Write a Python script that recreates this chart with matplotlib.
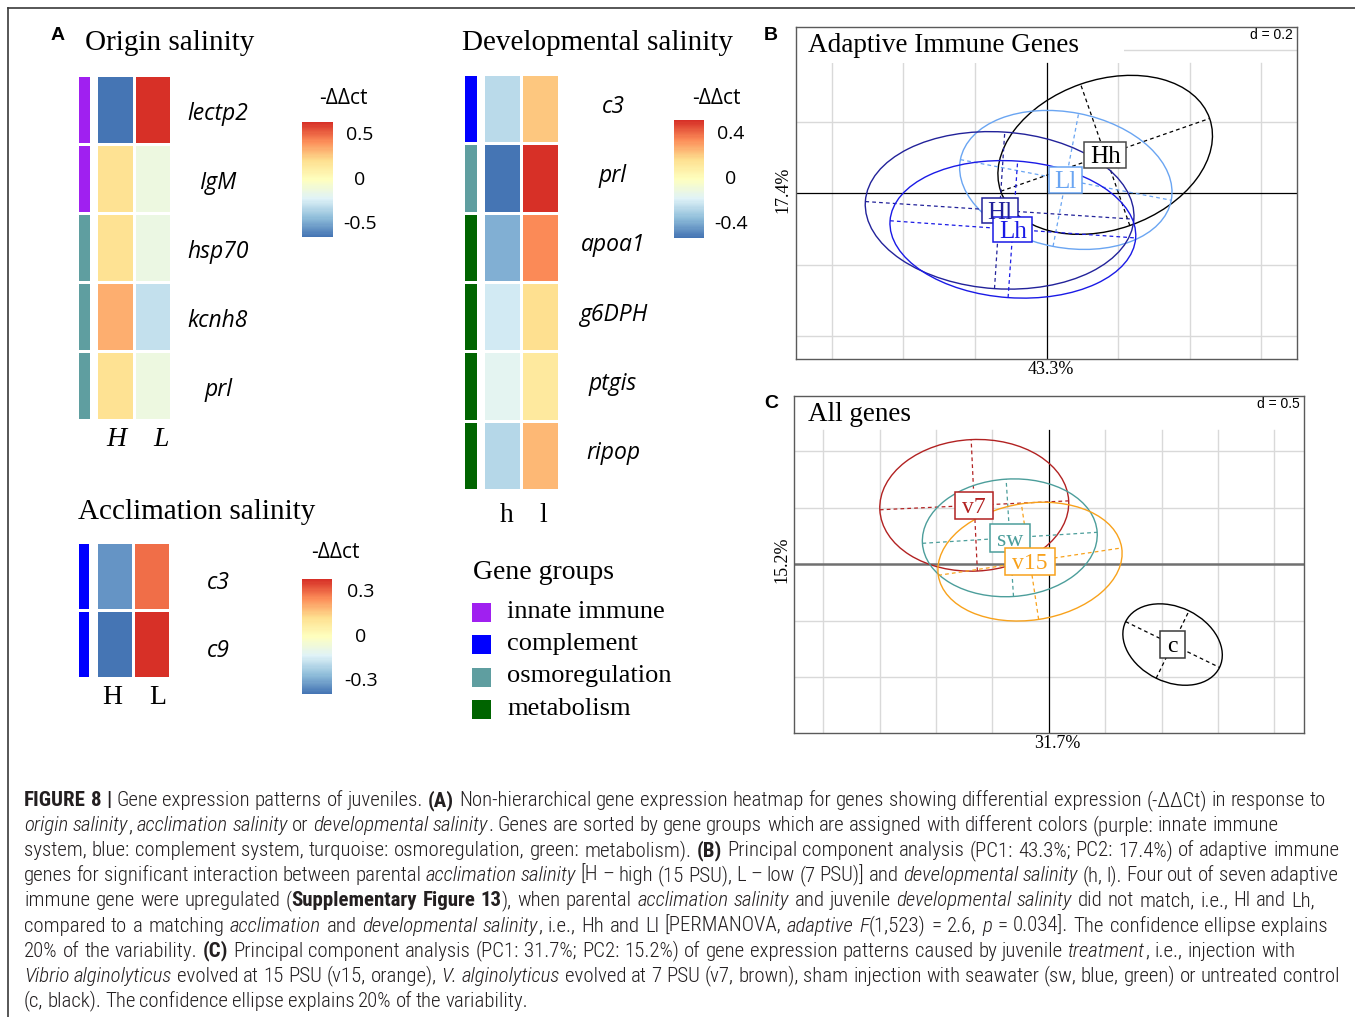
import re
import numpy as np
import matplotlib
matplotlib.use("Agg")
import matplotlib.pyplot as plt
import matplotlib.transforms as mtransforms
from matplotlib.colors import LinearSegmentedColormap, ListedColormap
from matplotlib.patches import Ellipse, Rectangle
from matplotlib.lines import Line2D
from matplotlib import font_manager as fm

# ------------------------------------------------------------------ data
group_names = ["innate immune", "complement", "osmoregulation", "metabolism"]
group_colors = ["#a020f0", "#0000ff", "#5f9ea0", "#006400"]

origin_genes = ["lectp2", "IgM", "hsp70", "kcnh8", "prl"]
origin_groups = [0, 0, 2, 2, 2]
origin_cols = ["H", "L"]
origin_H = [-0.65, 0.20, 0.20, 0.35, 0.20]
origin_L = [0.65, -0.12, -0.14, -0.29, -0.13]
origin_ticks = [0.5, 0, -0.5]

dev_genes = ["c3", "prl", "apoa1", "g6DPH", "ptgis", "ripop"]
dev_groups = [1, 2, 3, 3, 3, 3]
dev_cols = ["h", "l"]
dev_h = [-0.265, -0.52, -0.39, -0.21, -0.15, -0.27]
dev_l = [0.23, 0.53, 0.36, 0.18, 0.12, 0.26]
dev_ticks = [0.4, 0, -0.4]

accl_genes = ["c3", "c9"]
accl_groups = [1, 1]
accl_cols = ["H", "L"]
accl_H = [-0.33, -0.39]
accl_L = [0.30, 0.39]
accl_ticks = [0.3, 0, -0.3]

pal_hex = ["#4575B4", "#91BFDB", "#E0F3F8", "#FFFFBF", "#FEE090", "#FC8D59", "#D73027"]

# PCA B (adaptive immune genes)
b_classes = ["Hh", "Ll", "Hl", "Lh"]
b_cx = [0.164, 0.054, -0.131, -0.094]
b_cy = [0.107, 0.037, -0.048, -0.101]
b_semi_major = [0.309, 0.300, 0.376, 0.344]
b_semi_minor = [0.209, 0.189, 0.219, 0.191]
b_angle = [19.2, -10.9, -3.75, -4.0]
b_colors = ["#000000", "#6aa5f2", "#22229a", "#1a1ae6"]
b_edge = ["#4a4a4a", "#6aa5f2", "#22229a", "#1a1ae6"]
b_grid_x = [-0.6, -0.4, -0.2, 0.2, 0.4, 0.6]
b_grid_y = [-0.4, -0.2, 0.2, 0.4]
b_pc = ["43.3%", "17.4%"]

# PCA C (all genes)
c_classes = ["v7", "sw", "v15", "c"]
c_cx = [-0.661, -0.346, -0.167, 1.097]
c_cy = [0.522, 0.234, 0.023, -0.712]
c_semi_major = [0.838, 0.776, 0.822, 0.463]
c_semi_minor = [0.583, 0.521, 0.518, 0.332]
c_angle = [2.7, 3.6, 8.5, -26.0]
c_colors = ["#b22222", "#4c9e9b", "#f8a21c", "#000000"]
c_edge = ["#b22222", "#4c9e9b", "#f8a21c", "#3a3a3a"]
c_grid_x = [-2.0, -1.5, -1.0, -0.5, 0.5, 1.0, 1.5, 2.0]
c_grid_y = [-1.0, -0.5, 0.5, 1.0]
c_pc = ["31.7%", "15.2%"]

caption = [
    [("FIGURE 8 |", "b"), (" Gene expression patterns of juveniles. ", "n"), ("(A)", "b"),
     (" Non-hierarchical gene expression heatmap for genes showing differential expression (-\u0394\u0394Ct) in response to", "n")],
    [("origin salinity", "i"), (", ", "n"), ("acclimation salinity", "i"), (" or ", "n"),
     ("developmental salinity", "i"),
     (". Genes are sorted by gene groups which are assigned with different colors (purple: innate immune", "n")],
    [("system, blue: complement system, turquoise: osmoregulation, green: metabolism). ", "n"), ("(B)", "b"),
     (" Principal component analysis (PC1: 43.3%; PC2: 17.4%) of adaptive immune", "n")],
    [("genes for significant interaction between parental ", "n"), ("acclimation salinity", "i"),
     (" [H \u2013 high (15 PSU), L \u2013 low (7 PSU)] and ", "n"), ("developmental salinity", "i"),
     (" (h, l). Four out of seven adaptive", "n")],
    [("immune gene were upregulated (", "n"), ("Supplementary Figure 13", "b"), ("), when parental ", "n"),
     ("acclimation salinity", "i"), (" and juvenile ", "n"), ("developmental salinity", "i"),
     (" did not match, i.e., Hl and Lh,", "n")],
    [("compared to a matching ", "n"), ("acclimation", "i"), (" and ", "n"), ("developmental salinity", "i"),
     (", i.e., Hh and Ll [PERMANOVA, ", "n"), ("adaptive F", "i"), ("(1,523) = 2.6, ", "n"), ("p", "i"),
     (" = 0.034]. The confidence ellipse explains", "n")],
    [("20% of the variability. ", "n"), ("(C)", "b"),
     (" Principal component analysis (PC1: 31.7%; PC2: 15.2%) of gene expression patterns caused by juvenile ", "n"),
     ("treatment", "i"), (", i.e., injection with", "n")],
    [("Vibrio alginolyticus", "i"), (" evolved at 15 PSU (v15, orange), ", "n"), ("V. alginolyticus", "i"),
     (" evolved at 7 PSU (v7, brown), sham injection with seawater (sw, blue, green) or untreated control", "n")],
    [("(c, black). The confidence ellipse explains 20% of the variability.", "n")],
]
caption_line_ends = [1326, 1278, 1339, 1339, 1315, 1328, 1295, 1339, 528]

# ------------------------------------------------------------------ fonts
def _has(family, style=None):
    for f in fm.fontManager.ttflist:
        if f.name == family and (style is None or f.style == style):
            return True
    return False

def pick(cands, style="normal"):
    for c in cands:
        if _has(c, style):
            return c
    for c in cands:
        if _has(c):
            return c
    return "DejaVu Sans"

SERIF = pick(["Liberation Serif", "DejaVu Serif"])
SANS_IT = pick(["Open Sans", "Noto Sans", "Lato", "DejaVu Sans"], "italic")
SANS = pick(["Open Sans", "Noto Sans", "DejaVu Sans"])
ARIAL = pick(["Liberation Sans", "DejaVu Sans"])

# condensed font for the caption, if one is installed
cond = []
for f in fm.fontManager.ttflist:
    if f.stretch not in ("normal", 500) or "Narrow" in f.name or "Condensed" in f.name:
        cond.append((f.name, str(f.stretch), f.style, str(f.weight)))
CAP_FAMILY, CAP_STRETCH = ARIAL, "normal"
prefs = ["Liberation Sans Narrow", "Roboto Condensed", "Open Sans Condensed", "Noto Sans",
         "DejaVu Sans Condensed", "DejaVu Sans"]
found = False
for p in prefs:
    for (nm, st, sty, wt) in cond:
        if nm == p:
            CAP_FAMILY = nm
            CAP_STRETCH = st if st not in ("normal", "500") else "normal"
            found = True
            break
    if found:
        break

# ------------------------------------------------------------------ figure
W, H = 1355, 1017
fig = plt.figure(figsize=(W / 100, H / 100), dpi=100)
fig.patch.set_facecolor("white")
R = fig.canvas.get_renderer()

def fx(x):
    return x / W

def fy(y):
    return 1 - y / H

def px_axes(x0, y0, x1, y1):
    return fig.add_axes([fx(x0), fy(y1), (x1 - x0) / W, (y1 - y0) / H])

# outer frame
fig.add_artist(Line2D([fx(8), 1.0], [fy(8), fy(8)], transform=fig.transFigure, color="#3a3a3a", lw=1.2))
fig.add_artist(Line2D([fx(8), fx(8)], [fy(8), 0.0], transform=fig.transFigure, color="#3a3a3a", lw=1.2))

hm_cmap = LinearSegmentedColormap.from_list("rdylbu7", pal_hex, N=100)
grp_cmap = ListedColormap(group_colors)


def draw_heatmap(genes, groups, colnames, cols_values, cell_box, bar_box, gene_x, gene_off,
                 col_xs, col_y, col_style, cbar_box, cbar_title_xy, ticks, tick_x):
    M = np.column_stack(cols_values)
    vmax = float(np.abs(M).max())
    ax = px_axes(*cell_box)
    ax.pcolormesh(M, cmap=hm_cmap, vmin=-vmax, vmax=vmax, edgecolors="white", linewidth=1.0)
    ax.set_xlim(0, M.shape[1])
    ax.set_ylim(M.shape[0], 0)
    ax.axis("off")
    axb = px_axes(*bar_box)
    axb.pcolormesh(np.array(groups)[:, None], cmap=grp_cmap, vmin=-0.5,
                   vmax=len(group_colors) - 0.5, edgecolors="white", linewidth=1.0)
    axb.set_xlim(0, 1)
    axb.set_ylim(len(groups), 0)
    axb.axis("off")
    tr = mtransforms.blended_transform_factory(fig.transFigure, ax.transData)
    for i, g in enumerate(genes):
        ax.text(fx(gene_x), i + gene_off, g, transform=tr, ha="center", va="center",
                fontsize=16.5, family=SANS_IT, style="italic", clip_on=False)
    for cxp, name in zip(col_xs, colnames):
        fig.text(fx(cxp), fy(col_y), name, ha="center", va="center", fontsize=20,
                 family=SERIF, style=col_style)
    axc = px_axes(*cbar_box)
    grad = np.linspace(-vmax, vmax, 100)[:, None]
    axc.imshow(grad, cmap=hm_cmap, vmin=-vmax, vmax=vmax, aspect="auto", origin="lower",
               extent=[0, 1, -vmax, vmax], interpolation="nearest")
    axc.set_xlim(0, 1)
    axc.set_ylim(-vmax, vmax)
    axc.axis("off")
    trc = mtransforms.blended_transform_factory(fig.transFigure, axc.transData)
    for t in ticks:
        axc.text(fx(tick_x), t, f"{t:g}", transform=trc, ha="center", va="center",
                 fontsize=14, family=SANS, clip_on=False)
    fig.text(fx(cbar_title_xy[0]), fy(cbar_title_xy[1]), "-\u0394\u0394ct", ha="center",
             va="center", fontsize=15, family=SANS)


# ---- Panel A
fig.text(fx(58), fy(36), "A", ha="center", va="center", fontsize=14, fontweight="bold", family=ARIAL)
fig.text(fx(85), fy(50), "Origin salinity", ha="left", va="baseline", fontsize=21, family=SERIF)
draw_heatmap(origin_genes, origin_groups, origin_cols, [origin_H, origin_L],
             (96, 75, 171, 420), (77, 75, 91, 420), 218, 0.56, [116, 161], 440, "italic",
             (302, 122, 333, 237), (343, 98), origin_ticks, 360)

fig.text(fx(462), fy(50), "Developmental salinity", ha="left", va="baseline", fontsize=21, family=SERIF)
draw_heatmap(dev_genes, dev_groups, dev_cols, [dev_h, dev_l],
             (483, 74, 559, 490), (463, 74, 478, 490), 613, 0.47, [507, 543], 516, "normal",
             (674, 120, 704, 238), (716, 98), dev_ticks, 731)

fig.text(fx(78), fy(519), "Acclimation salinity", ha="left", va="baseline", fontsize=21, family=SERIF)
draw_heatmap(accl_genes, accl_groups, accl_cols, [accl_H, accl_L],
             (96, 542, 170, 678), (77, 542, 90, 678), 218, 0.6, [112, 158], 697, "normal",
             (302, 579, 332, 694), (335, 553), accl_ticks, 361)

# gene-group legend
fig.text(fx(473), fy(579), "Gene groups", ha="left", va="baseline", fontsize=20, family=SERIF)
for k, (nm, col) in enumerate(zip(group_names, group_colors)):
    top = 603 + 32.4 * k
    fig.add_artist(Rectangle((fx(472), fy(top + 19)), 19 / W, 19 / H, transform=fig.transFigure,
                             fc=col, ec="none"))
    fig.text(fx(507), fy(top + 14.5), nm, ha="left", va="baseline", fontsize=19, family=SERIF)


# ---- PCA panels
def draw_pca(box, xlim, ylim, grid_x, grid_y, vtop, cover, classes, cx, cy, sa, sb, ang,
             colors, edges, fs, padx, pady, hcol, hlw):
    ax = px_axes(*box)
    ax.set_xlim(*xlim)
    ax.set_ylim(*ylim)
    ax.set_xticks([])
    ax.set_yticks([])
    for s in ax.spines.values():
        s.set_color("#5a5a5a")
        s.set_linewidth(1.0)
    for g in grid_x:
        ax.plot([g, g], [ylim[0], vtop], color="#d9d9d9", lw=1.0, zorder=1)
    for g in grid_y:
        ax.axhline(g, color="#d9d9d9", lw=1.0, zorder=1)
    if cover is not None:
        ax.add_patch(Rectangle((xlim[0], cover[1]), cover[0] - xlim[0], ylim[1] - cover[1],
                               fc="white", ec="none", zorder=1.5))
    ax.plot([0, 0], [ylim[0], vtop], color="black", lw=0.9, zorder=2)
    ax.axhline(0, color=hcol, lw=hlw, zorder=2)
    for i in range(len(classes)):
        ax.add_patch(Ellipse((cx[i], cy[i]), 2 * sa[i], 2 * sb[i], angle=ang[i], fill=False,
                             ec=colors[i], lw=1.0, zorder=3))
        th = np.deg2rad(ang[i])
        ux, uy = np.cos(th), np.sin(th)
        ax.plot([cx[i] - sa[i] * ux, cx[i] + sa[i] * ux], [cy[i] - sa[i] * uy, cy[i] + sa[i] * uy],
                ls=(0, (3, 2.5)), color=colors[i], lw=0.9, zorder=3)
        ax.plot([cx[i] + sb[i] * uy, cx[i] - sb[i] * uy], [cy[i] - sb[i] * ux, cy[i] + sb[i] * ux],
                ls=(0, (3, 2.5)), color=colors[i], lw=0.9, zorder=3)
    ppx = (box[2] - box[0]) / (xlim[1] - xlim[0])
    ppy = (box[3] - box[1]) / (ylim[1] - ylim[0])
    cap = 0.662 * fs * 100 / 72.0
    for i, name in enumerate(classes):
        t = ax.text(cx[i], cy[i] - cap / 2 / ppy, name, ha="center", va="baseline", fontsize=fs,
                    family=SERIF, color=colors[i], zorder=6)
        w = t.get_window_extent(R).width
        ax.add_patch(Rectangle((cx[i] - (w / 2 + padx) / ppx, cy[i] - (cap / 2 + pady) / ppy),
                               (w + 2 * padx) / ppx, (cap + 2 * pady) / ppy, fc="white",
                               ec=edges[i], lw=1.1, zorder=5))
    return ax


fig.text(fx(771), fy(35), "B", ha="center", va="center", fontsize=14, fontweight="bold", family=ARIAL)
draw_pca((796, 27, 1297, 359), (-0.70, 0.70), (-0.463, 0.464), b_grid_x, b_grid_y, 0.364,
         (0.216, 0.364), b_classes, b_cx, b_cy, b_semi_major, b_semi_minor, b_angle,
         b_colors, b_edge, 18, 5.5, 4.5, "black", 0.9)
fig.text(fx(808), fy(52), "Adaptive Immune Genes", ha="left", va="baseline", fontsize=19.5, family=SERIF)
fig.text(fx(1293), fy(35), "d = 0.2", ha="right", va="center", fontsize=10, family=ARIAL)
fig.text(fx(1051), fy(370), b_pc[0], ha="center", va="center", fontsize=13, family=SERIF)
fig.text(fx(783), fy(190), b_pc[1], ha="center", va="center", fontsize=13, family=SERIF, rotation=90)

fig.text(fx(771), fy(404), "C", ha="center", va="center", fontsize=14, fontweight="bold", family=ARIAL)
draw_pca((794, 396, 1304, 733), (-2.259, 2.262), (-1.496, 1.491), c_grid_x, c_grid_y, 1.194,
         None, c_classes, c_cx, c_cy, c_semi_major, c_semi_minor, c_angle,
         c_colors, c_edge, 17, 7, 6, "#707070", 1.8)
fig.text(fx(808), fy(421), "All genes", ha="left", va="baseline", fontsize=19.5, family=SERIF)
fig.text(fx(1300), fy(404), "d = 0.5", ha="right", va="center", fontsize=10, family=ARIAL)
fig.text(fx(1057), fy(743), c_pc[0], ha="center", va="center", fontsize=13, family=SERIF)
fig.text(fx(782), fy(560), c_pc[1], ha="center", va="center", fontsize=13, family=SERIF, rotation=90)

# ---- Caption (word-by-word rich text)
STY = {"n": {"fontweight": "light"}, "b": {"fontweight": "bold"},
       "i": {"fontstyle": "italic", "fontweight": "light"}}

def cap_kw(st, size):
    return dict(fontsize=size, family=CAP_FAMILY, fontstretch=CAP_STRETCH, **STY[st])

def measure(s, st, size):
    t = fig.text(0, 0, s, **cap_kw(st, size))
    w = t.get_window_extent(R).width
    t.remove()
    return w

def tokens(segs, size):
    sw = {st: measure("a a", st, size) - measure("aa", st, size) for st in STY}
    out = []
    for txt, st in segs:
        for tok in re.split(r"( )", txt):
            if tok == "":
                continue
            if tok == " ":
                out.append((None, st, sw[st]))
            else:
                out.append((tok, st, measure(tok, st, size)))
    return out

BASE = 12.0
ratios = []
for segs, end in zip(caption, caption_line_ends):
    tk = tokens(segs, BASE)
    ratios.append((end - 24) / sum(w for _, _, w in tk))
size = BASE * float(np.median(ratios))

for li, (segs, end) in enumerate(zip(caption, caption_line_ends)):
    tk = tokens(segs, size)
    nat = sum(w for _, _, w in tk)
    nsp = sum(1 for t, _, _ in tk if t is None)
    extra = (end - 24 - nat) / nsp if nsp else 0.0
    spw = [w for t, _, w in tk if t is None]
    if spw:
        extra = max(min(extra, 1.2 * spw[0]), -0.5 * spw[0])
    x = 24.0
    yb = 806 + 25.1 * li
    for t, st, w in tk:
        if t is None:
            x += w + extra
        else:
            fig.text(fx(x), fy(yb), t, va="baseline", ha="left", color="#231f20", **cap_kw(st, size))
            x += w

fig.savefig("out.png", dpi=100)
